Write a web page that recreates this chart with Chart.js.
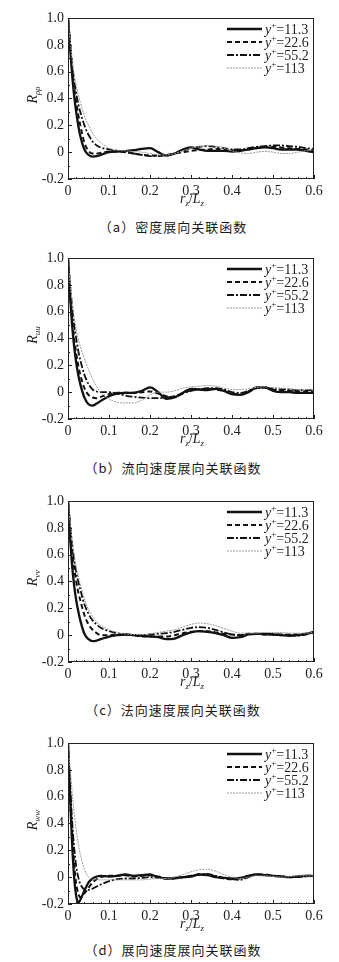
<!DOCTYPE html>
<html>
<head>
<meta charset="utf-8">
<title>展向关联函数</title>
<script src="https://cdn.jsdelivr.net/npm/chart.js@4.4.1/dist/chart.umd.min.js"></script>
<style>
  body { margin: 0; background: #fff; }
  #page { position: relative; width: 339px; height: 962px; overflow: hidden; }
  .panel { position: absolute; left: 0; width: 339px; height: 215px; }
  .caption {
    position: absolute; left: 0; width: 346px; text-align: center;
    font: 13px "Noto Sans CJK SC", "Liberation Serif", serif;
    line-height: 16px; color: #1a1a1a; letter-spacing: 1px;
  }
</style>
</head>
<body>
<div id="page"></div>
<script>
// r_z/L_z sample positions shared by all curves
const rz = [0, 0.005, 0.01, 0.015, 0.02, 0.025, 0.03, 0.04, 0.05, 0.06, 0.07, 0.08,
  0.1, 0.12, 0.14, 0.16, 0.18, 0.2, 0.22, 0.24, 0.26, 0.28, 0.3, 0.32, 0.34, 0.36,
  0.38, 0.4, 0.42, 0.44, 0.46, 0.48, 0.5, 0.52, 0.54, 0.56, 0.58, 0.6];

const yPlus = ['11.3', '22.6', '55.2', '113'];

// (a) density
const rhoRho11 = [1.0, 0.78, 0.58, 0.42, 0.3, 0.2, 0.12, 0.02, -0.02, -0.033, -0.03, -0.02, 0.0, 0.005, 0.008, 0.015, 0.025, 0.03, 0.0, -0.025, -0.01, 0.02, 0.035, 0.02, 0.01, 0.01, 0.01, 0.005, 0.01, 0.02, 0.03, 0.035, 0.03, 0.02, 0.02, 0.02, 0.01, 0.0];
const rhoRho22 = [1.0, 0.8, 0.62, 0.48, 0.37, 0.28, 0.2, 0.07, 0.01, -0.01, -0.01, -0.005, 0.005, 0.005, 0.0, -0.01, -0.02, -0.025, -0.025, -0.02, -0.01, 0.0, 0.01, 0.015, 0.02, 0.025, 0.02, 0.015, 0.015, 0.02, 0.03, 0.04, 0.04, 0.035, 0.03, 0.025, 0.02, 0.015];
const rhoRho55 = [1.0, 0.82, 0.66, 0.53, 0.44, 0.36, 0.3, 0.2, 0.13, 0.08, 0.05, 0.035, 0.02, 0.01, 0.0, -0.01, -0.02, -0.03, -0.03, -0.02, -0.01, 0.01, 0.03, 0.04, 0.045, 0.04, 0.03, 0.02, 0.02, 0.03, 0.04, 0.045, 0.05, 0.05, 0.045, 0.04, 0.03, 0.025];
const rhoRho113 = [1.0, 0.84, 0.7, 0.58, 0.5, 0.43, 0.37, 0.27, 0.2, 0.14, 0.1, 0.07, 0.03, 0.015, 0.01, 0.005, 0.0, -0.01, -0.02, -0.02, -0.01, 0.01, 0.03, 0.04, 0.05, 0.045, 0.03, 0.01, -0.005, -0.01, 0.0, 0.005, 0.0, -0.01, -0.01, 0.0, 0.01, 0.02];

// (b) streamwise velocity
const uu11 = [1.0, 0.72, 0.5, 0.34, 0.22, 0.13, 0.06, -0.04, -0.09, -0.1, -0.085, -0.065, -0.03, -0.01, -0.005, -0.005, 0.01, 0.035, 0.0, -0.05, -0.04, -0.005, 0.025, 0.02, 0.015, 0.025, 0.01, -0.015, -0.02, 0.0, 0.035, 0.035, 0.01, 0.0, 0.0, -0.005, -0.005, -0.005];
const uu22 = [1.0, 0.75, 0.55, 0.4, 0.29, 0.2, 0.13, 0.03, -0.02, -0.04, -0.045, -0.035, -0.015, -0.005, -0.005, -0.005, 0.0, 0.005, -0.01, -0.03, -0.035, -0.01, 0.015, 0.02, 0.025, 0.02, 0.01, -0.01, -0.015, 0.005, 0.03, 0.035, 0.02, 0.01, 0.01, 0.005, 0.005, 0.005];
const uu55 = [1.0, 0.8, 0.64, 0.5, 0.4, 0.31, 0.24, 0.13, 0.06, 0.02, 0.005, 0.0, 0.0, -0.01, -0.025, -0.035, -0.04, -0.045, -0.045, -0.04, -0.03, -0.01, 0.01, 0.02, 0.03, 0.03, 0.02, 0.0, -0.005, 0.01, 0.03, 0.035, 0.025, 0.02, 0.02, 0.015, 0.015, 0.015];
const uu113 = [1.0, 0.82, 0.68, 0.56, 0.47, 0.4, 0.34, 0.25, 0.17, 0.1, 0.04, 0.0, -0.05, -0.075, -0.08, -0.08, -0.06, -0.02, 0.0, 0.0, 0.01, 0.03, 0.04, 0.045, 0.05, 0.045, 0.03, 0.02, 0.02, 0.025, 0.035, 0.04, 0.035, 0.03, 0.025, 0.02, 0.02, 0.02];

// (c) wall-normal velocity
const vv11 = [1.0, 0.74, 0.52, 0.37, 0.26, 0.18, 0.11, 0.01, -0.03, -0.045, -0.04, -0.03, -0.01, 0.0, 0.005, 0.0, -0.005, -0.01, -0.015, -0.03, -0.025, 0.0, 0.02, 0.03, 0.025, 0.015, 0.0, -0.02, -0.015, 0.005, 0.01, 0.01, 0.005, 0.0, -0.005, 0.0, 0.01, 0.025];
const vv22 = [1.0, 0.8, 0.63, 0.5, 0.4, 0.32, 0.26, 0.15, 0.08, 0.04, 0.015, 0.0, 0.0, 0.005, 0.005, 0.0, -0.01, -0.01, -0.01, -0.01, 0.0, 0.015, 0.025, 0.03, 0.03, 0.02, 0.01, 0.005, 0.0, 0.01, 0.01, 0.005, 0.005, 0.0, 0.005, 0.005, 0.01, 0.02];
const vv55 = [1.0, 0.83, 0.68, 0.56, 0.47, 0.4, 0.34, 0.23, 0.16, 0.11, 0.08, 0.055, 0.03, 0.015, 0.005, 0.0, 0.0, 0.005, 0.01, 0.015, 0.025, 0.04, 0.055, 0.06, 0.055, 0.04, 0.02, 0.005, 0.0, 0.01, 0.01, 0.005, 0.005, 0.005, 0.0, -0.005, 0.005, 0.02];
const vv113 = [1.0, 0.85, 0.71, 0.6, 0.51, 0.44, 0.38, 0.27, 0.19, 0.14, 0.1, 0.075, 0.04, 0.02, 0.01, 0.005, 0.005, 0.01, 0.02, 0.03, 0.04, 0.06, 0.08, 0.09, 0.085, 0.07, 0.05, 0.03, 0.015, 0.015, 0.015, 0.02, 0.02, 0.02, 0.015, 0.015, 0.015, 0.02];

// (d) spanwise velocity
const ww11 = [1.0, 0.6, 0.25, 0.0, -0.14, -0.19, -0.17, -0.1, -0.04, -0.01, 0.005, 0.01, 0.005, 0.01, 0.02, 0.01, 0.015, 0.02, 0.0, -0.01, -0.005, 0.0, 0.005, 0.02, 0.015, 0.0, -0.005, -0.01, -0.005, 0.01, 0.02, 0.015, 0.01, 0.005, 0.0, 0.005, 0.01, 0.01];
const ww22 = [1.0, 0.65, 0.33, 0.1, -0.05, -0.12, -0.15, -0.12, -0.08, -0.04, -0.015, 0.0, 0.01, 0.01, 0.015, 0.005, 0.01, 0.015, 0.005, -0.01, -0.01, 0.0, 0.01, 0.02, 0.02, 0.005, -0.01, -0.015, -0.01, 0.005, 0.02, 0.02, 0.01, 0.005, 0.0, 0.005, 0.01, 0.01];
const ww55 = [1.0, 0.7, 0.42, 0.22, 0.08, 0.0, -0.05, -0.09, -0.095, -0.085, -0.07, -0.055, -0.03, -0.015, -0.01, -0.01, -0.005, 0.0, -0.005, -0.01, -0.01, 0.0, 0.01, 0.02, 0.025, 0.01, -0.005, -0.015, -0.02, 0.0, 0.02, 0.015, 0.01, 0.005, 0.0, 0.0, 0.005, 0.01];
const ww113 = [1.0, 0.82, 0.64, 0.48, 0.35, 0.25, 0.17, 0.06, 0.0, -0.015, -0.02, -0.02, -0.02, -0.02, -0.02, -0.02, -0.02, -0.015, -0.01, -0.01, 0.0, 0.02, 0.04, 0.055, 0.06, 0.045, 0.02, 0.0, -0.01, 0.0, 0.01, 0.01, 0.005, 0.0, 0.005, 0.01, 0.01, 0.01];

// line look for y+ = 11.3, 22.6, 55.2, 113
const lineStyles = [
  { color: '#111', width: 2.3, dash: [] },
  { color: '#111', width: 2, dash: [5, 3] },
  { color: '#111', width: 1.8, dash: [7, 2, 2, 2] },
  { color: '#9a9a9a', width: 1, dash: [2, 1] }
];

const panels = [
  { sub: 'ρρ', series: [rhoRho11, rhoRho22, rhoRho55, rhoRho113], caption: '（a）密度展向关联函数', top: 0, capTop: 219 },
  { sub: 'uu', series: [uu11, uu22, uu55, uu113], caption: '（b）流向速度展向关联函数', top: 240, capTop: 460 },
  { sub: 'vv', series: [vv11, vv22, vv55, vv113], caption: '（c）法向速度展向关联函数', top: 483, capTop: 702 },
  { sub: 'ww', series: [ww11, ww22, ww55, ww113], caption: '（d）展向速度展向关联函数', top: 725, capTop: 942 }
];

const SERIF = '"Liberation Serif", "DejaVu Serif", serif';

// draws text pieces one after another: [text, font, dy]
function drawRuns(ctx, runs, x, y) {
  runs.forEach(([t, font, dy]) => {
    ctx.font = font;
    ctx.fillText(t, x, y + (dy || 0));
    x += ctx.measureText(t).width;
  });
  return x;
}

function runsWidth(ctx, runs) {
  let w = 0;
  runs.forEach(([t, font]) => { ctx.font = font; w += ctx.measureText(t).width; });
  return w;
}

// frame, inside ticks, axis titles and legend
const decorPlugin = {
  id: 'decor',
  afterDraw(chart) {
    const { ctx, chartArea: a, scales: { x, y } } = chart;
    const sub = chart.options.plugins.decor.sub;
    ctx.save();
    ctx.strokeStyle = '#222';
    ctx.lineWidth = 1;
    ctx.setLineDash([]);
    ctx.strokeRect(a.left + 0.5, a.top + 0.5, a.right - a.left - 1, a.bottom - a.top - 1);

    ctx.beginPath();
    for (let v = 0; v <= 60; v += 2) {
      const px = Math.round(x.getPixelForValue(v / 100)) + 0.5;
      const len = v % 10 === 0 ? 4 : 2;
      ctx.moveTo(px, a.bottom);
      ctx.lineTo(px, a.bottom - len);
    }
    for (let v = -20; v <= 100; v += 10) {
      const py = Math.round(y.getPixelForValue(v / 100)) + 0.5;
      const len = v % 20 === 0 ? 4 : 2;
      ctx.moveTo(a.left, py);
      ctx.lineTo(a.left + len, py);
    }
    ctx.stroke();

    ctx.fillStyle = '#222';
    ctx.textBaseline = 'alphabetic';
    ctx.textAlign = 'left';

    // x title r_z/L_z
    const it = 'italic 14px ' + SERIF;
    const itSm = 'italic 9px ' + SERIF;
    const xRuns = [['r', it], ['z', itSm, 3], ['/', '14px ' + SERIF], ['L', it], ['z', itSm, 3]];
    const cx = (a.left + a.right) / 2 + 1;
    drawRuns(ctx, xRuns, cx - runsWidth(ctx, xRuns) / 2, a.bottom + 24);

    // y title R_sub
    const yRuns = [['R', it], [sub, itSm, 3]];
    ctx.save();
    ctx.translate(37, a.top + 77);
    ctx.rotate(-Math.PI / 2);
    drawRuns(ctx, yRuns, -runsWidth(ctx, yRuns) / 2, 0);
    ctx.restore();

    // legend
    lineStyles.forEach((s, i) => {
      const ly = a.top + 11 + i * 13;
      ctx.strokeStyle = s.color;
      ctx.lineWidth = s.width;
      ctx.setLineDash(s.dash);
      ctx.beginPath();
      ctx.moveTo(a.right - 87, ly);
      ctx.lineTo(a.right - 52, ly);
      ctx.stroke();
      ctx.setLineDash([]);
      drawRuns(ctx, [['y', it], ['+', '9px ' + SERIF, -6], ['=' + yPlus[i], '14px ' + SERIF]], a.right - 49, ly + 5);
    });
    ctx.restore();
  }
};

function makeChart(p) {
  const holder = document.getElementById('page');
  const canvas = document.createElement('canvas');
  canvas.className = 'panel';
  canvas.width = 339;
  canvas.height = 215;
  canvas.style.top = p.top + 'px';
  holder.appendChild(canvas);

  const cap = document.createElement('div');
  cap.className = 'caption';
  cap.style.top = p.capTop + 'px';
  cap.textContent = p.caption;
  holder.appendChild(cap);

  new Chart(canvas.getContext('2d'), {
    type: 'line',
    data: {
      datasets: p.series.map((vals, i) => ({
        label: 'y+=' + yPlus[i],
        data: rz.map((x, j) => ({ x: x, y: vals[j] })),
        borderColor: lineStyles[i].color,
        borderWidth: lineStyles[i].width,
        borderDash: lineStyles[i].dash,
        pointRadius: 0,
        cubicInterpolationMode: 'monotone',
        fill: false
      })).reverse()
    },
    options: {
      responsive: false,
      animation: false,
      devicePixelRatio: 1,
      layout: { padding: { top: 18, right: 25, left: 0, bottom: 0 } },
      plugins: {
        legend: { display: false },
        tooltip: { enabled: false },
        decor: { sub: p.sub }
      },
      scales: {
        x: {
          type: 'linear',
          min: 0,
          max: 0.6,
          grid: { display: false, drawTicks: false },
          border: { display: false },
          ticks: {
            stepSize: 0.1,
            padding: 4,
            color: '#222',
            maxRotation: 0,
            font: { family: SERIF, size: 14 },
            callback: v => (Math.abs(v) < 1e-9 ? '0' : v.toFixed(1))
          },
          afterFit: s => { s.height = 36; }
        },
        y: {
          min: -0.2,
          max: 1.0,
          grid: { display: false, drawTicks: false },
          border: { display: false },
          ticks: {
            stepSize: 0.2,
            padding: 4,
            color: '#222',
            font: { family: SERIF, size: 14 },
            callback: v => (Math.abs(v) < 1e-9 ? '0' : v.toFixed(1))
          },
          afterFit: s => { s.width = 68; }
        }
      }
    },
    plugins: [decorPlugin]
  });
}

panels.forEach(makeChart);
</script>
</body>
</html>
